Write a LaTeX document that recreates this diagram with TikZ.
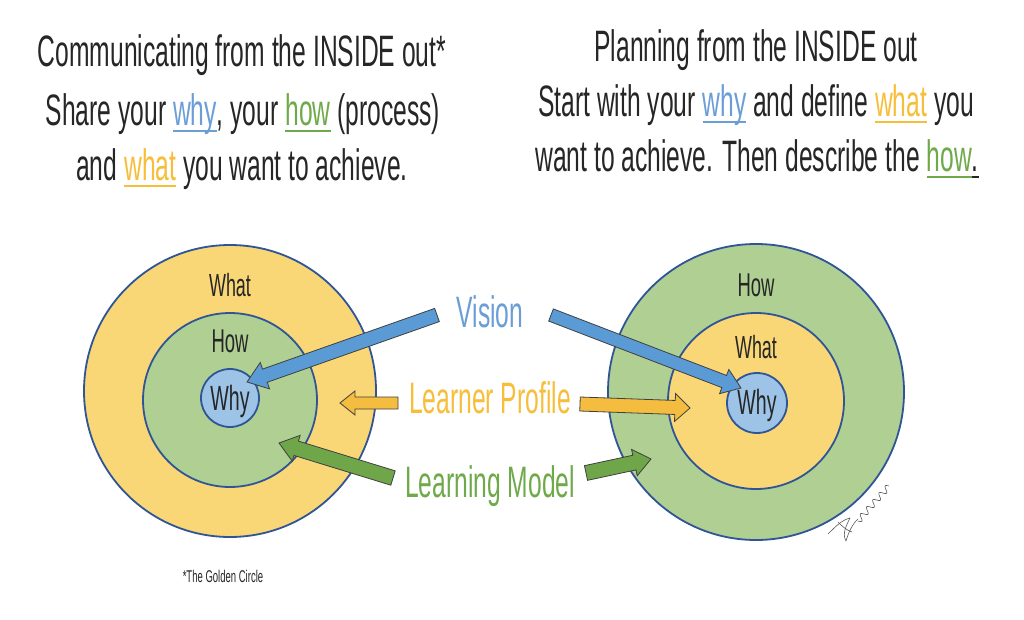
\documentclass[tikz,border=0pt]{standalone}
\usepackage{fontspec}
\setmainfont{Liberation Sans}
\newfontfamily\hand[FakeStretch=0.56]{Liberation Sans}
\usetikzlibrary{calc}
\definecolor{cyel}{HTML}{F9D776}
\definecolor{cgrn}{HTML}{AFCF93}
\definecolor{cblu}{HTML}{9DC3E6}
\definecolor{cline}{HTML}{2F5597}
\definecolor{ablue}{HTML}{5B9BD5}
\definecolor{aorange}{HTML}{F5BD3F}
\definecolor{agreen}{HTML}{6FA64A}
\definecolor{tblue}{HTML}{6B9ED6}
\definecolor{torange}{HTML}{F7BE3A}
\definecolor{tgreen}{HTML}{6FAA4A}
\definecolor{ink}{HTML}{262626}
\newcommand\hsz[1]{\fontsize{#1}{#1}\selectfont}
\newcommand\cw[2]{{\color{#1}\setbox0\hbox{#2}\rlap{\rule[-6pt]{\wd0}{1.8pt}}\box0}}
\newcommand\barrow[6]{%
  \coordinate (#2h) at ($(#2)!#6!(#1)$);
  \draw[arrowline, fill=#3] ($(#1)!#4!90:(#2)$) -- ($(#2h)!#4!90:(#2)$) -- ($(#2h)!#5!90:(#2)$) -- (#2) -- ($(#2h)!#5!-90:(#2)$) -- ($(#2h)!#4!-90:(#2)$) -- ($(#1)!#4!-90:(#2)$) -- cycle;}
\tikzset{
  ring/.style={circle, draw=cline, line width=1.8pt, inner sep=0pt},
  txt/.style={font=\hand\hsz{44}, text=ink, inner sep=0pt, anchor=base},
  lbl/.style={font=\hand\hsz{#1}, text=ink, inner sep=0pt, anchor=base},
  arrowline/.style={draw=black!75, line width=0.8pt, line join=miter},
  sig/.style={draw=black!65, line width=0.6pt, line cap=round, line join=round}
}
\begin{document}
\begin{tikzpicture}[x=1pt,y=-1pt]
\fill[white] (0,0) rectangle (1024,620);
\useasboundingbox (0,0) rectangle (1024,620);

% left circles
\node[ring, fill=cyel, minimum size=292pt] (LO) at (230,391) {};
\node[ring, fill=cgrn, minimum size=174pt] (LM) at (230,400) {};
\node[ring, fill=cblu, minimum size=58pt] (LI) at (230,398) {};
% right circles
\node[ring, fill=cgrn, minimum size=296pt] (RO) at (756,392) {};
\node[ring, fill=cyel, minimum size=176pt] (RM) at (756,401) {};
\node[ring, fill=cblu, minimum size=60pt] (RI) at (757,403) {};

% arrows
\coordinate (bLt) at (437,315); \coordinate (bLp) at (247,382);
\coordinate (bRt) at (551,315); \coordinate (bRp) at (741,388);
\coordinate (oLt) at (398,403); \coordinate (oLp) at (340,403);
\coordinate (oRt) at (580,404); \coordinate (oRp) at (690,408);
\coordinate (gLt) at (393,478); \coordinate (gLp) at (279,443);
\coordinate (gRt) at (586,473); \coordinate (gRp) at (651,459);
\barrow{bLt}{bLp}{ablue}{7pt}{14pt}{19pt}
\barrow{bRt}{bRp}{ablue}{6.5pt}{13pt}{18pt}
\barrow{oLt}{oLp}{aorange}{6pt}{12pt}{15pt}
\barrow{oRt}{oRp}{aorange}{7pt}{14pt}{15pt}
\barrow{gLt}{gLp}{agreen}{7.5pt}{13.5pt}{18pt}
\barrow{gRt}{gRp}{agreen}{7.5pt}{13.5pt}{17pt}

% circle labels
\node[lbl=32] (lwhat) at (230,296) {What};
\node[lbl=33] (lhow) at (230,352) {How};
\node[lbl=35] (lwhy) at (230,410) {Why};
\node[lbl=33] (rhow) at (756,296) {How};
\node[lbl=32] (rwhat) at (756,358) {What};
\node[lbl=35] (rwhy) at (757,414) {Why};

% middle labels
\node[txt, text=tblue] (vision) at (490,327) {Vision};
\node[txt, text=torange] (lprof) at (490,413) {Learner Profile};
\node[txt, text=tgreen] (lmodel) at (490,497) {Learning Model};

% headings
\node[txt] (h1) at (242,67) {Communicating from the INSIDE out*};
\node[txt] (h2) at (243,126) {Share your \cw{tblue}{why}, your \cw{tgreen}{how} (process)};
\node[txt] (h3) at (242,181) {and \cw{torange}{what} you want to achieve.};
\node[txt] (r1) at (756,62) {Planning from the INSIDE out};
\node[txt] (r2) at (756,117) {Start with your \cw{tblue}{why} and define \cw{torange}{what} you};
\node[txt] (r3) at (757,172) {want to achieve. Then describe the \cw{tgreen}{how}\cw{ink}{.}};

% footnote
\node[lbl=17] (foot) at (223,582) {*The Golden Circle};

% signature scribble
\draw[sig] (828,534) .. controls (836,526) and (842,520) .. (850,518)
  .. controls (846,526) and (842,534) .. (846,541)
  .. controls (848,534) and (852,524) .. (858,519);
\draw[sig] (838,522) .. controls (842,526) and (846,530) .. (852,532);
\draw[sig] plot[smooth, domain=0:1, samples=70]
  ({858+31*\x + 3*sin(\x*1800)*0.75}, {521-35*\x + 3*sin(\x*1800)*0.66});
\end{tikzpicture}
\end{document}
